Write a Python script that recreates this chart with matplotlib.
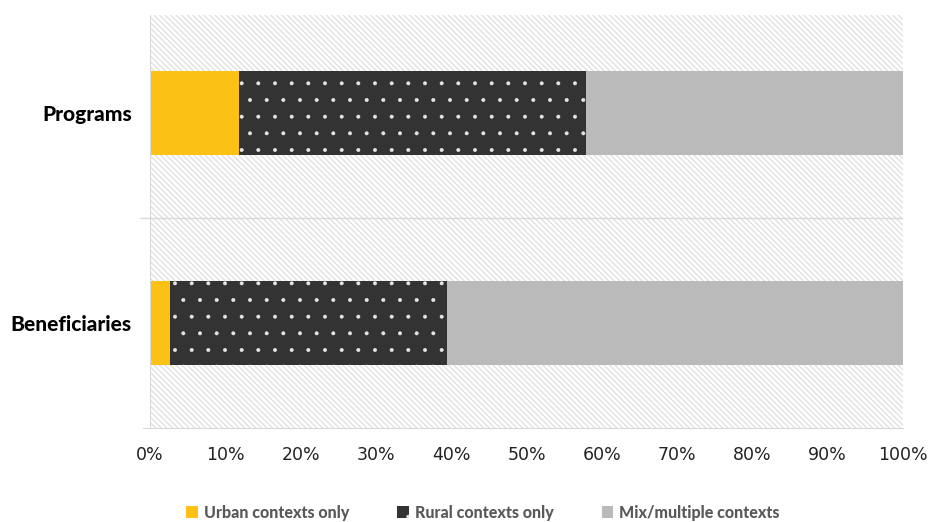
import matplotlib
matplotlib.use("Agg")
import matplotlib.pyplot as plt
from matplotlib.patches import Patch, Rectangle
from matplotlib.ticker import PercentFormatter

# ------------------------------ #
#             Data               #
# ------------------------------ #
categories = ["Beneficiaries", "Programs"]
series_names = ["Urban contexts only", "Rural contexts only", "Mix/multiple contexts"]
urban = [2.7, 11.8]
rural = [36.7, 46.1]
mixed = [60.6, 42.1]

colors = ["#FBC115", "#333333", "#BABABA"]
hatches = [None, ".", None]

fig = plt.figure(figsize=(9.29, 5.22), dpi=100)
ax = fig.add_axes([0.1615, 0.18, 0.8105, 0.7913])

# hatched background of the plot area
plt.rcParams["hatch.linewidth"] = 0.9
bg = Rectangle((0, 0), 1, 1, transform=ax.transAxes, facecolor="white",
               edgecolor="#dedede", hatch="\\" * 6, linewidth=0, zorder=0)
ax.add_patch(bg)

# bars (thin hatch lines -> small dots on the dark series)
plt.rcParams["hatch.linewidth"] = 0.4
ypos = list(range(len(categories)))
left = [0] * len(categories)
for vals, name, col, h in zip([urban, rural, mixed], series_names, colors, hatches):
    ax.barh(ypos, vals, left=left, height=0.4, color=col,
            edgecolor="#e6e6e6" if h else col, linewidth=0, hatch=h, zorder=2)
    left = [a + b for a, b in zip(left, vals)]

ax.set_xlim(0, 100)
ax.set_ylim(-0.5, 1.467)
ax.xaxis.set_major_formatter(PercentFormatter(decimals=0))
ax.set_xticks(range(0, 101, 10))
ax.tick_params(axis="x", length=0, labelsize=12.5, pad=13, labelcolor="#222222")

ax.set_yticks(ypos)
ax.set_yticklabels(categories, fontfamily="Lato", fontweight="black", fontsize=15)
ax.tick_params(axis="y", which="major", length=0, pad=13)
ax.set_yticks([0.5], minor=True)
ax.tick_params(axis="y", which="minor", length=7, color="#d9d9d9", width=1)
ax.axhline(0.5, color="#d9d9d9", linewidth=1, zorder=1)

for s in ["top", "right"]:
    ax.spines[s].set_visible(False)
ax.spines["left"].set_color("#d9d9d9")
ax.spines["bottom"].set_color("#d9d9d9")
ax.spines["bottom"].set_bounds(-0.9, 100)

# legend
handles = [Patch(facecolor=c, edgecolor="#e6e6e6" if h else c, hatch=h, linewidth=0)
           for c, h in zip(colors, hatches)]
fig.legend(handles, series_names, loc="lower center", ncol=3, frameon=False,
           bbox_to_anchor=(0.52, -0.025), handlelength=0.7, handleheight=0.7,
           handletextpad=0.4, columnspacing=3.0,
           prop={"family": "Lato", "weight": "black", "size": 11.5}, labelcolor="#595959")

fig.savefig("out.png", dpi=100)
